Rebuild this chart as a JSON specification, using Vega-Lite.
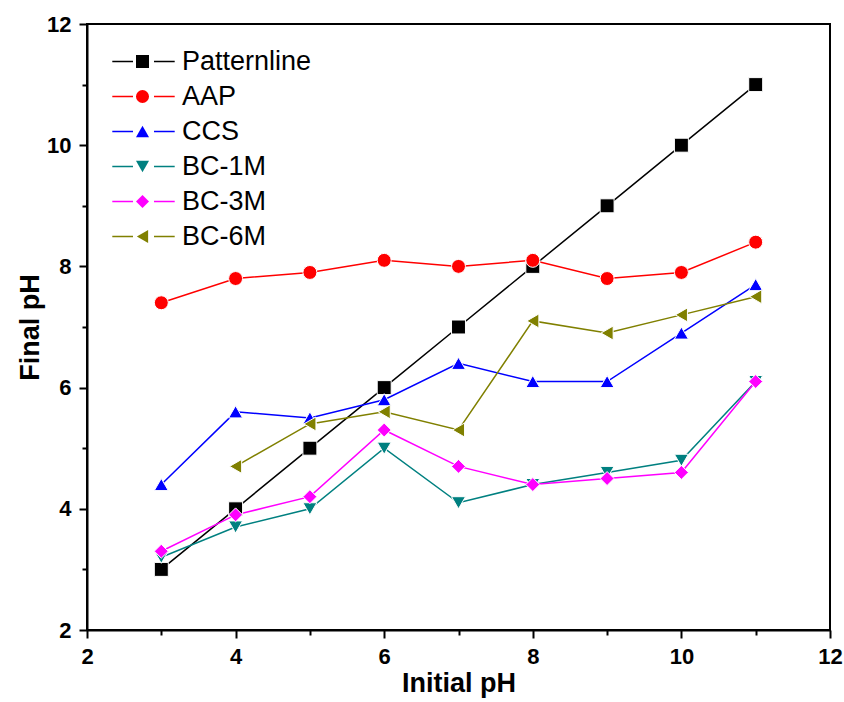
{
  "$schema": "https://vega.github.io/schema/vega-lite/v6.json",
  "width": 743,
  "height": 606,
  "autosize": {"type": "none"},
  "padding": {"left": 87, "top": 24, "right": 14, "bottom": 72},
  "background": "white",
  "config": {
    "view": {"stroke": "black", "strokeWidth": 2},
    "font": "Liberation Sans"
  },
  "data": {
    "values": [
      {"series": "Patternline", "x": 3, "y": 3},
      {"series": "Patternline", "x": 4, "y": 4},
      {"series": "Patternline", "x": 5, "y": 5},
      {"series": "Patternline", "x": 6, "y": 6},
      {"series": "Patternline", "x": 7, "y": 7},
      {"series": "Patternline", "x": 8, "y": 8},
      {"series": "Patternline", "x": 9, "y": 9},
      {"series": "Patternline", "x": 10, "y": 10},
      {"series": "Patternline", "x": 11, "y": 11},
      {"series": "AAP", "x": 3, "y": 7.4},
      {"series": "AAP", "x": 4, "y": 7.8},
      {"series": "AAP", "x": 5, "y": 7.9},
      {"series": "AAP", "x": 6, "y": 8.1},
      {"series": "AAP", "x": 7, "y": 8.0},
      {"series": "AAP", "x": 8, "y": 8.1},
      {"series": "AAP", "x": 9, "y": 7.8},
      {"series": "AAP", "x": 10, "y": 7.9},
      {"series": "AAP", "x": 11, "y": 8.4},
      {"series": "CCS", "x": 3, "y": 4.4},
      {"series": "CCS", "x": 4, "y": 5.6},
      {"series": "CCS", "x": 5, "y": 5.5},
      {"series": "CCS", "x": 6, "y": 5.8},
      {"series": "CCS", "x": 7, "y": 6.4},
      {"series": "CCS", "x": 8, "y": 6.1},
      {"series": "CCS", "x": 9, "y": 6.1},
      {"series": "CCS", "x": 10, "y": 6.9},
      {"series": "CCS", "x": 11, "y": 7.7},
      {"series": "BC-1M", "x": 3, "y": 3.2},
      {"series": "BC-1M", "x": 4, "y": 3.7},
      {"series": "BC-1M", "x": 5, "y": 4.0},
      {"series": "BC-1M", "x": 6, "y": 5.0},
      {"series": "BC-1M", "x": 7, "y": 4.1},
      {"series": "BC-1M", "x": 8, "y": 4.4},
      {"series": "BC-1M", "x": 9, "y": 4.6},
      {"series": "BC-1M", "x": 10, "y": 4.8},
      {"series": "BC-1M", "x": 11, "y": 6.1},
      {"series": "BC-3M", "x": 3, "y": 3.3},
      {"series": "BC-3M", "x": 4, "y": 3.9},
      {"series": "BC-3M", "x": 5, "y": 4.2},
      {"series": "BC-3M", "x": 6, "y": 5.3},
      {"series": "BC-3M", "x": 7, "y": 4.7},
      {"series": "BC-3M", "x": 8, "y": 4.4},
      {"series": "BC-3M", "x": 9, "y": 4.5},
      {"series": "BC-3M", "x": 10, "y": 4.6},
      {"series": "BC-3M", "x": 11, "y": 6.1},
      {"series": "BC-6M", "x": 4, "y": 4.7},
      {"series": "BC-6M", "x": 5, "y": 5.4},
      {"series": "BC-6M", "x": 6, "y": 5.6},
      {"series": "BC-6M", "x": 7, "y": 5.3},
      {"series": "BC-6M", "x": 8, "y": 7.1},
      {"series": "BC-6M", "x": 9, "y": 6.9},
      {"series": "BC-6M", "x": 10, "y": 7.2},
      {"series": "BC-6M", "x": 11, "y": 7.5}
    ]
  },
  "encoding": {
    "x": {
      "field": "x", "type": "quantitative",
      "scale": {"domain": [2, 12], "nice": false, "zero": false},
      "axis": {
        "title": "Initial pH",
        "values": [2, 3, 4, 5, 6, 7, 8, 9, 10, 11, 12],
        "labelExpr": "datum.value % 2 === 0 ? datum.label : ''",
        "grid": false,
        "domainColor": "black", "domainWidth": 2,
        "tickColor": "black", "tickWidth": 2,
        "tickSize": {"condition": {"test": "datum.value % 2 === 1", "value": 5}, "value": 8},
        "labelFont": "Liberation Sans", "labelFontWeight": "bold", "labelFontSize": 22, "labelColor": "black",
        "labelPadding": 8, "labelFlush": false,
        "titleFont": "Liberation Sans", "titleFontWeight": "bold", "titleFontSize": 27, "titleColor": "black",
        "titlePadding": 3
      }
    },
    "y": {
      "field": "y", "type": "quantitative",
      "scale": {"domain": [2, 12], "nice": false, "zero": false},
      "axis": {
        "title": "Final pH",
        "values": [2, 3, 4, 5, 6, 7, 8, 9, 10, 11, 12],
        "labelExpr": "datum.value % 2 === 0 ? datum.label : ''",
        "grid": false,
        "domainColor": "black", "domainWidth": 2,
        "tickColor": "black", "tickWidth": 2,
        "tickSize": {"condition": {"test": "datum.value % 2 === 1", "value": 5}, "value": 8},
        "labelFont": "Liberation Sans", "labelFontWeight": "bold", "labelFontSize": 22, "labelColor": "black",
        "labelPadding": 8, "labelFlush": false,
        "titleFont": "Liberation Sans", "titleFontWeight": "bold", "titleFontSize": 27, "titleColor": "black",
        "titlePadding": 2
      }
    },
    "color": {
      "field": "series", "type": "nominal",
      "scale": {
        "domain": ["Patternline", "AAP", "CCS", "BC-1M", "BC-3M", "BC-6M"],
        "range": ["#000000", "#FF0000", "#0000FF", "#008080", "#FF00FF", "#808000"]
      },
      "legend": {
        "title": null,
        "orient": "none", "legendX": 43, "legendY": 24, "padding": 0,
        "symbolType": "M-2.6,0H-0.875M0.875,0H2.6", "symbolSize": 576, "symbolStrokeWidth": 1.5,
        "labelFont": "Liberation Sans", "labelFontSize": 27, "labelColor": "black",
        "rowPadding": 7, "labelOffset": 25
      }
    }
  },
  "layer": [
    {
      "mark": {"type": "line", "strokeWidth": 1.5},
      "encoding": {}
    },
    {
      "mark": {"type": "point", "filled": true, "opacity": 1, "size": 195, "stroke": "white", "strokeWidth": 1},
      "encoding": {
        "shape": {
          "field": "series", "type": "nominal",
          "sort": ["Patternline", "AAP", "CCS", "BC-1M", "BC-3M", "BC-6M"],
          "scale": {
            "range": ["square", "circle", "triangle-up", "triangle-down", "diamond", "triangle-left"]
          },
          "legend": {
            "title": null,
            "orient": "none", "legendX": 42, "legendY": 24, "padding": 0,
            "symbolSize": 170, "symbolStrokeWidth": 0,
            "symbolFillColor": {"expr": "scale('color', datum.value)"},
            "labelExpr": "''",
            "labelFont": "Liberation Sans", "labelFontSize": 27,
            "rowPadding": 7, "labelOffset": 9
          }
        }
      }
    }
  ]
}
